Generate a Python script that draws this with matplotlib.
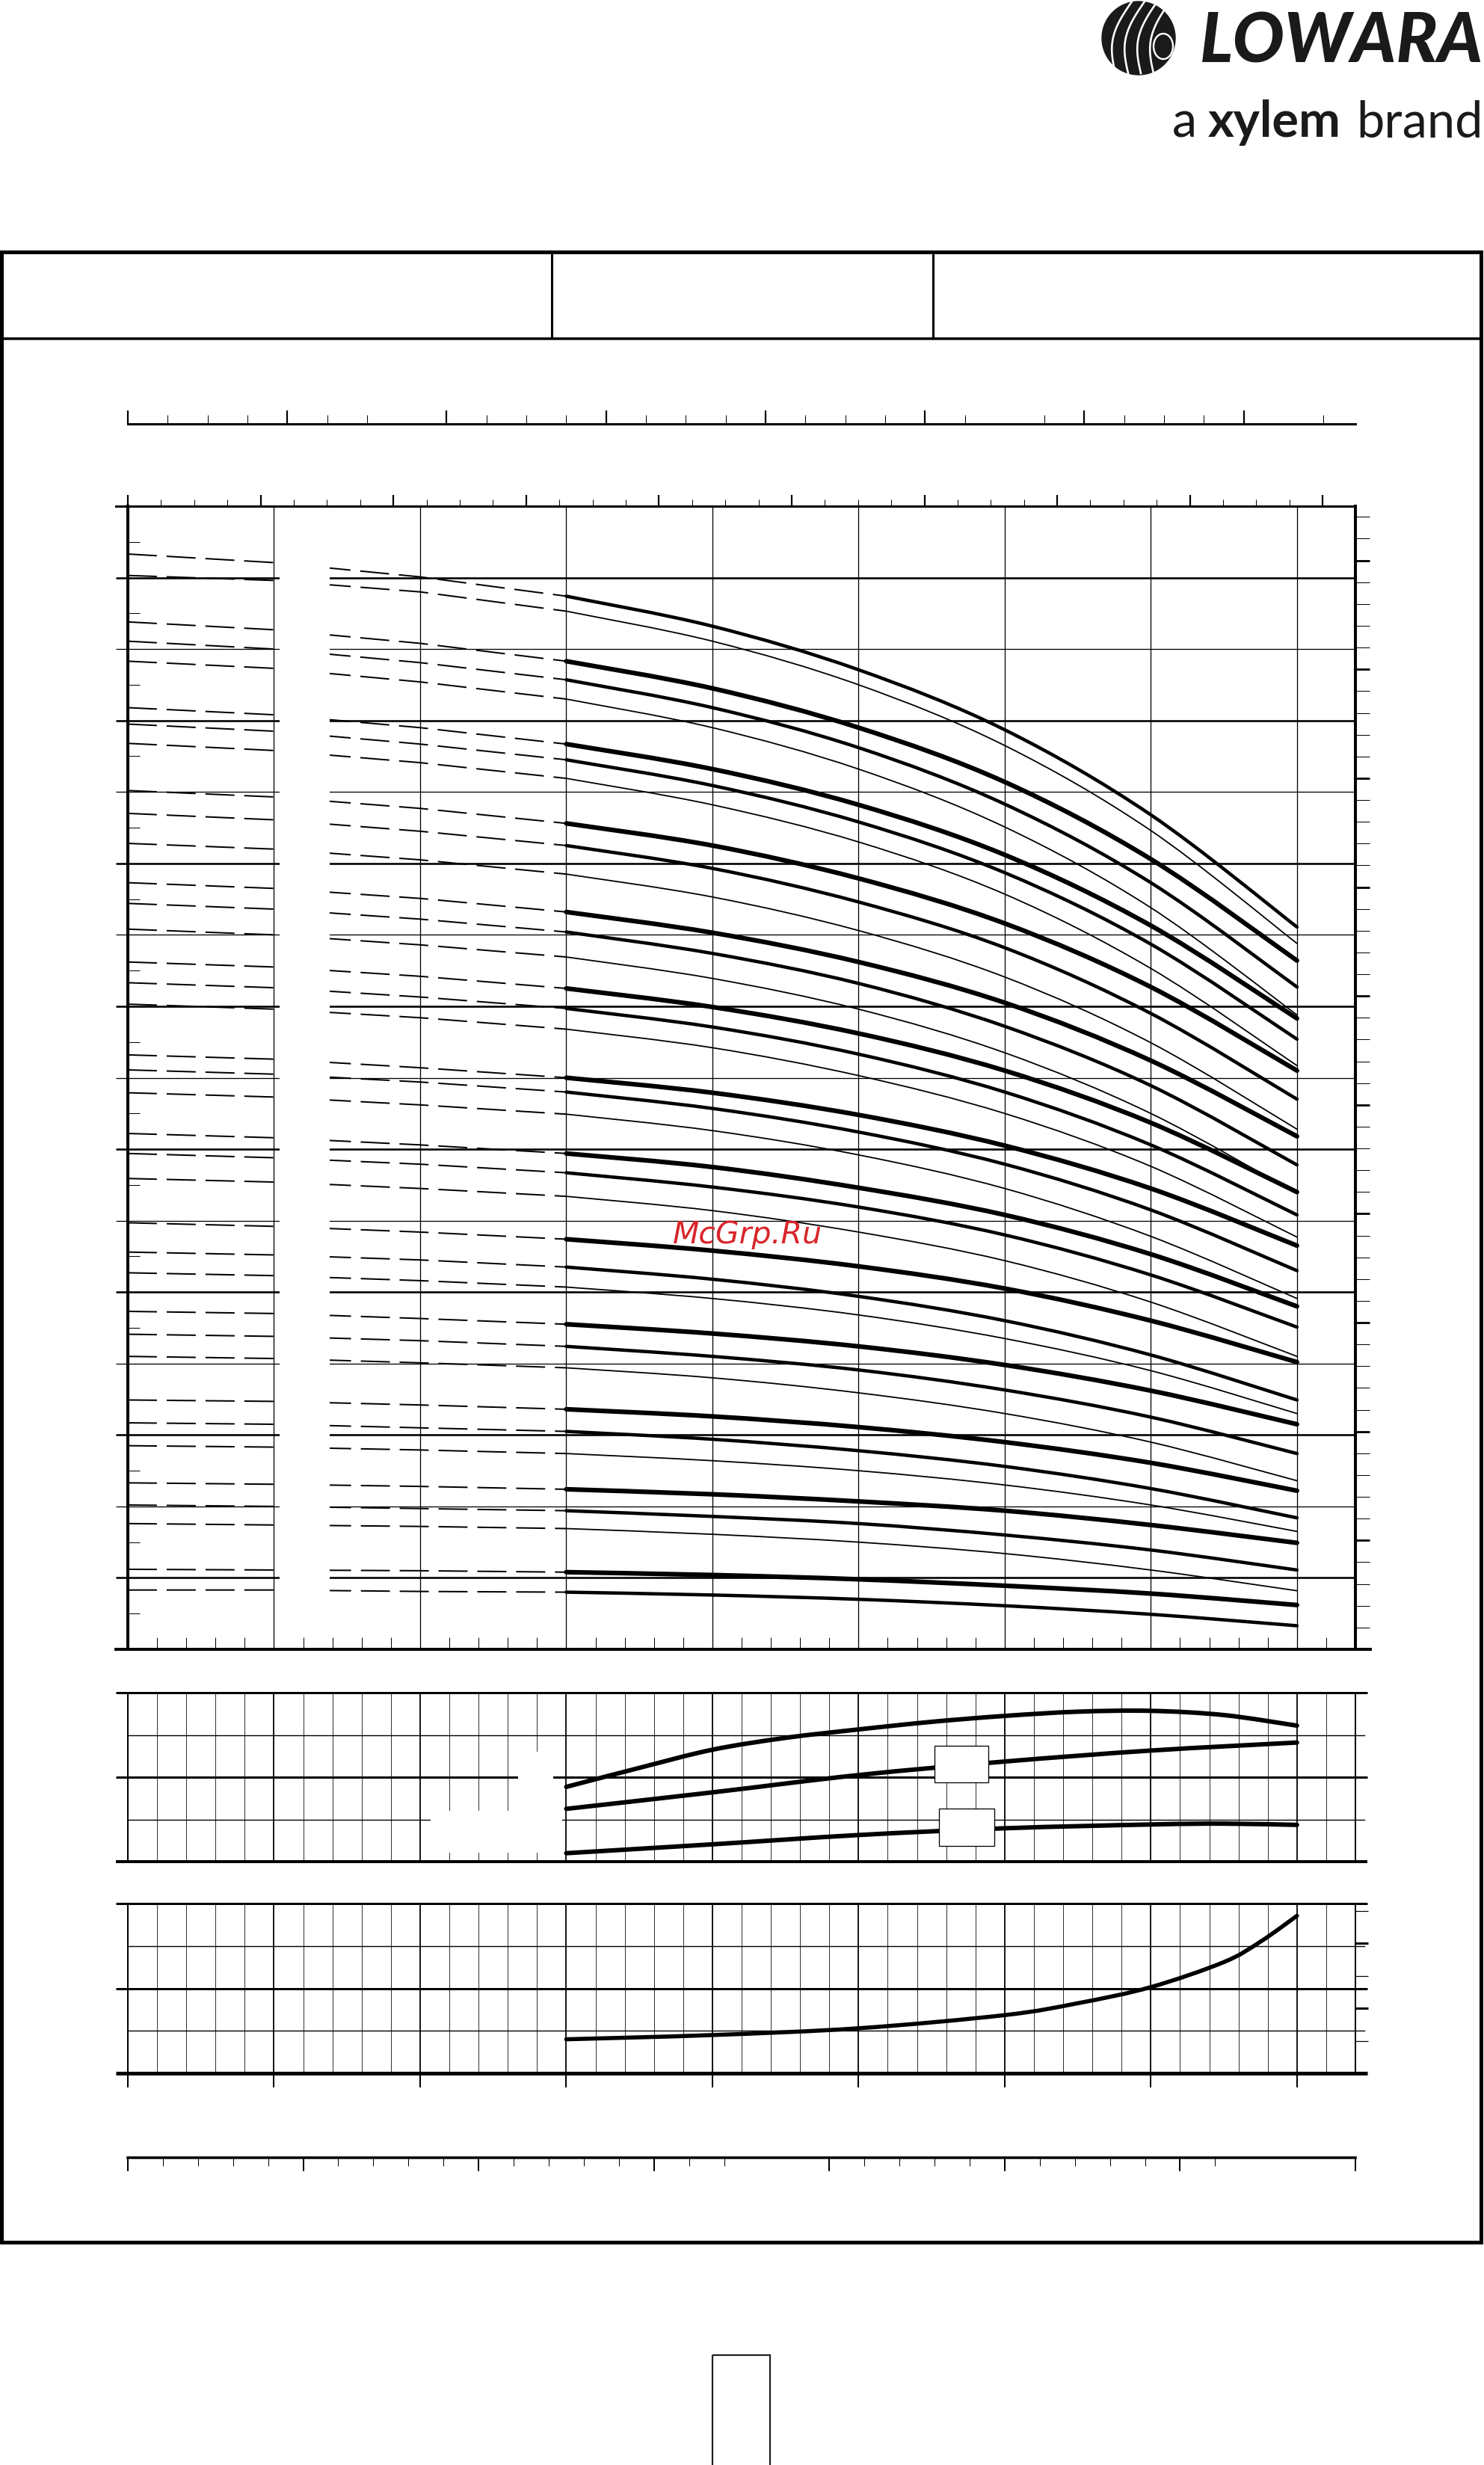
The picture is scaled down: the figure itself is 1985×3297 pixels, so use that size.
import numpy as np
import matplotlib
matplotlib.use("Agg")
import matplotlib.pyplot as plt
from matplotlib.patches import Rectangle, Circle, Ellipse, PathPatch
from matplotlib.path import Path

plt.rcParams['lines.scale_dashes'] = False
plt.rcParams['font.family'] = ['Lato', 'DejaVu Sans']

W, H = 1985, 3297
PT = 0.72  # points per pixel at dpi 100

# ---------------- data ----------------
flow_m3h = [0, 1, 2, 3, 4, 5, 6, 7, 8]
# head [m] at the flows above; Q<3 is the dashed part
head_table = [
    [153.3, 152.1, 150.1, 147.4, 143.2, 137.1, 128.7, 116.8, 101.1],
    [150.3, 149.6, 148.0, 145.3, 141.1, 135.0, 126.5, 114.6, 98.8],
    [143.8, 142.7, 140.8, 138.3, 134.5, 129.0, 121.4, 110.6, 96.4],
    [141.1, 140.0, 138.1, 135.7, 131.8, 126.2, 118.3, 107.3, 92.7],
    [138.3, 137.3, 135.4, 133.0, 129.0, 123.2, 115.1, 103.8, 88.8],
    [131.8, 130.8, 129.0, 126.7, 123.2, 118.2, 111.2, 101.3, 88.3],
    [129.5, 128.5, 126.7, 124.5, 120.9, 115.8, 108.7, 98.7, 85.4],
    [126.8, 125.8, 124.1, 121.9, 118.2, 113.0, 105.7, 95.3, 81.7],
    [120.2, 119.3, 117.7, 115.6, 112.5, 107.9, 101.6, 92.7, 81.0],
    [117.0, 116.1, 114.5, 112.5, 109.3, 104.6, 98.2, 89.0, 77.0],
    [112.8, 112.0, 110.5, 108.5, 105.3, 100.6, 94.1, 84.9, 72.8],
    [107.3, 106.5, 105.1, 103.2, 100.3, 96.2, 90.5, 82.4, 71.8],
    [104.4, 103.6, 102.2, 100.4, 97.4, 93.2, 87.2, 78.9, 67.8],
    [100.8, 100.0, 98.6, 96.9, 93.9, 89.6, 83.5, 75.0, 63.8],
    [96.2, 95.5, 94.2, 92.5, 89.9, 86.2, 81.0, 73.7, 64.0],
    [93.3, 92.6, 91.3, 89.7, 87.1, 83.3, 78.0, 70.6, 60.8],
    [90.3, 89.6, 88.4, 86.8, 84.2, 80.3, 75.0, 67.6, 57.7],
    [83.2, 82.6, 81.4, 80.0, 77.9, 74.8, 70.5, 64.5, 56.5],
    [81.1, 80.5, 79.4, 78.0, 75.7, 72.4, 67.9, 61.5, 53.0],
    [77.9, 77.3, 76.2, 74.9, 72.6, 69.2, 64.5, 57.8, 49.1],
    [72.2, 71.6, 70.6, 69.4, 67.5, 64.6, 60.8, 55.3, 48.0],
    [69.4, 68.8, 67.9, 66.7, 64.7, 61.9, 58.0, 52.4, 45.1],
    [65.9, 65.4, 64.5, 63.4, 61.4, 58.4, 54.4, 48.6, 41.0],
    [59.7, 59.2, 58.4, 57.4, 55.8, 53.6, 50.5, 46.0, 40.2],
    [55.6, 55.2, 54.5, 53.5, 51.8, 49.4, 46.0, 41.2, 34.9],
    [52.7, 52.3, 51.6, 50.7, 49.1, 46.8, 43.5, 39.0, 33.0],
    [47.3, 47.0, 46.3, 45.5, 44.2, 42.4, 39.8, 36.2, 31.5],
    [44.1, 43.8, 43.2, 42.4, 41.0, 39.1, 36.3, 32.5, 27.4],
    [41.0, 40.7, 40.1, 39.4, 38.0, 35.9, 33.0, 29.0, 23.6],
    [34.9, 34.7, 34.2, 33.6, 32.6, 31.1, 29.0, 26.1, 22.2],
    [31.7, 31.5, 31.0, 30.5, 29.4, 27.8, 25.6, 22.5, 18.4],
    [28.5, 28.3, 27.9, 27.4, 26.4, 25.0, 23.0, 20.2, 16.5],
    [23.3, 23.1, 22.8, 22.4, 21.7, 20.7, 19.4, 17.4, 14.9],
    [20.2, 20.0, 19.7, 19.4, 18.6, 17.6, 16.0, 13.9, 11.1],
    [17.6, 17.4, 17.2, 16.9, 16.1, 15.0, 13.4, 11.1, 8.2],
    [11.2, 11.1, 11.0, 10.8, 10.4, 9.8, 8.9, 7.8, 6.2],
    [8.3, 8.3, 8.1, 8.0, 7.6, 7.0, 6.1, 4.9, 3.3],
]
curve_kind = ['m', 's'] + ['vt', 't', 's'] * 11 + ['vt', 't']

# efficiency / npsh panel (grid units 0..4)
eff_q = [3, 3.5, 4, 4.5, 5, 5.5, 6, 6.5, 7, 7.5, 8]
eff_u = [1.77, 2.22, 2.65, 2.93, 3.13, 3.31, 3.45, 3.55, 3.57, 3.47, 3.22]
mid_q = [3, 4, 5, 6, 7, 8]
mid_u = [1.25, 1.64, 2.05, 2.37, 2.63, 2.82]
low_q = [3, 4, 5, 6, 7, 7.5, 8]
low_u = [0.20, 0.41, 0.63, 0.79, 0.88, 0.90, 0.87]
# power panel
pow_q = [3, 4, 5, 6, 6.5, 7, 7.5, 7.75, 8]
pow_u = [0.80, 0.90, 1.06, 1.37, 1.65, 2.03, 2.62, 3.10, 3.71]

# tick scales
imp_major = [0, 4, 8, 12, 16, 20, 24, 28]
imp_minor = [1, 2, 3, 5, 6, 9, 10, 11, 13, 14, 15, 17, 18, 19, 21, 23, 25, 26, 27, 30]
lmin_major = [0, 20, 40, 60, 80, 100, 120, 140]
lmin_minor = [4, 8, 12, 16, 24, 28, 32, 36, 44, 48, 52, 56, 64, 68,
              84, 88, 92, 96, 104, 108, 112, 116, 124]

LW = {'m': 4.5, 'vt': 6.2, 't': 4.5, 's': 1.8}   # px


def box(x0, y0, x1, y1):
    return [x0 / W, 1 - y1 / H, (x1 - x0) / W, (y1 - y0) / H]


def smooth(ax, xs, ys, lw, z=4):
    # bezier path through the read points (catmull-rom tangents)
    pts = np.column_stack([xs, ys]).astype(float)
    ext = np.vstack([pts[0], pts, pts[-1]])
    verts = [pts[0]]
    codes = [Path.MOVETO]
    for i in range(len(pts) - 1):
        p0, p1, p2, p3 = ext[i], ext[i + 1], ext[i + 2], ext[i + 3]
        verts += [p1 + (p2 - p0) / 6, p2 - (p3 - p1) / 6, p2]
        codes += [Path.CURVE4] * 3
    ax.add_patch(PathPatch(Path(verts, codes), fill=False, ec='k', lw=lw * PT,
                           capstyle='round', zorder=z))


fig = plt.figure(figsize=(W / 100, H / 100), dpi=100)
fig.patch.set_facecolor('white')

# ---------------- page frame, header, logo ----------------
bg = fig.add_axes([0, 0, 1, 1])
bg.set_xlim(0, W)
bg.set_ylim(H, 0)
bg.axis('off')
bg.add_patch(Rectangle((2, 337), 1979, 2662, fill=False, lw=5 * PT, ec='k'))
bg.plot([2, 1981], [452.5, 452.5], color='k', lw=3.5 * PT)
bg.plot([738, 738], [337, 452], color='k', lw=3 * PT)
bg.plot([1248, 1248], [337, 452], color='k', lw=3 * PT)
bg.add_patch(Rectangle((953, 3150), 77, 200, fill=False, lw=2.2 * PT, ec='#231f20'))

# logo mark
bg.add_patch(Circle((1523, 51), 49, color='#1a1a1a'))
tt = np.linspace(0, 1, 40)
for i in range(4):
    x0 = 1492 + i * 17
    xs = x0 - 14 * np.sin(np.pi * tt) + 22 * tt
    ys = 98 - 96 * tt
    bg.plot(xs, ys, color='white', lw=2.6 * PT)
bg.add_patch(Ellipse((1556, 62), 26, 34, fill=False, ec='white', lw=2.4 * PT))

bg.text(1984, 83, 'LOWARA', ha='right', va='baseline', fontsize=66,
        fontweight='black', fontstyle='italic', color='#1a1a1a')
bg.text(1568, 183, 'a', ha='left', va='baseline', fontsize=48,
        fontweight='normal', color='#1a1a1a')
bg.text(1616, 183, 'xylem', ha='left', va='baseline', fontsize=48,
        fontweight='bold', color='#1a1a1a')
bg.text(1984, 183, 'brand', ha='right', va='baseline', fontsize=48,
        fontweight='normal', color='#1a1a1a')

# ---------------- imperial gpm scale ----------------
imp = fig.add_axes(box(171, 530, 1813, 567))
imp.set_xlim(0, 30.8)
imp.patch.set_visible(False)
for s in ['top', 'left', 'right']:
    imp.spines[s].set_visible(False)
imp.spines['bottom'].set_linewidth(3 * PT)
imp.set_yticks([])
imp.set_xticks(imp_major)
imp.set_xticks(imp_minor, minor=True)
imp.set_xticklabels([])
imp.tick_params(axis='x', which='major', direction='in', length=18 * PT, width=2.2 * PT)
imp.tick_params(axis='x', which='minor', direction='in', length=12 * PT, width=1 * PT)

# ---------------- main H-Q chart ----------------
ax = fig.add_axes(box(171, 677, 1813, 2206))
ax.set_xlim(0, 8.4)
ax.set_ylim(0, 160)
ax.spines['left'].set_linewidth(4 * PT)
ax.spines['right'].set_linewidth(4 * PT)
ax.spines['top'].set_linewidth(3 * PT)
ax.spines['bottom'].set_linewidth(4 * PT)
ax.set_xticks([])
ax.set_yticks([])
ax.set_xticks(np.arange(0.2, 8.4, 0.2), minor=True)
ax.set_yticks(np.arange(5, 160, 10), minor=True)
ax.tick_params(which='minor', direction='in', length=16 * PT, width=1 * PT,
               top=False, right=False)

for q in range(1, 9):
    ax.axvline(q, color='k', lw=1.3 * PT, zorder=1)
for h in range(10, 160, 10):
    heavy = (h // 10) % 2 == 1
    ax.plot([-0.08, 8.4], [h, h], color='k', lw=(2.6 if heavy else 1.3) * PT,
            clip_on=False, zorder=1, solid_capstyle='butt')
ax.plot([-0.08, 8.4], [160, 160], color='k', lw=3 * PT, clip_on=False, zorder=1)
ax.plot([-0.08, 8.5], [0, 0], color='k', lw=4 * PT, clip_on=False, zorder=1)

flow = np.array(flow_m3h)
for row, kind in zip(head_table, curve_kind):
    row = np.array(row)
    ax.plot(flow[:4], row[:4], color='k', lw=2 * PT, dashes=(28, 9.4), zorder=2)
    smooth(ax, flow[3:], row[3:], LW[kind])
ax.add_patch(Rectangle((1.04, 2), 0.34, 156, fc='white', ec='none', zorder=3))

top = ax.secondary_xaxis('top', functions=(lambda q: q * 4.403, lambda g: g / 4.403))
top.set_xticks(np.arange(0, 37, 4))
top.set_xticks(np.arange(0, 37, 1), minor=True)
top.set_xticklabels([])
top.tick_params(which='major', direction='out', length=15 * PT, width=2.2 * PT)
top.tick_params(which='minor', direction='out', length=9 * PT, width=1 * PT)
top.spines['top'].set_linewidth(3 * PT)

rt = ax.secondary_yaxis('right', functions=(lambda m: m * 3.2808, lambda f: f / 3.2808))
rt.set_yticks(np.arange(50, 525, 50))
rt.set_yticks(np.arange(10, 525, 10), minor=True)
rt.set_yticklabels([])
rt.tick_params(which='major', direction='out', length=19 * PT, width=2.8 * PT)
rt.tick_params(which='minor', direction='out', length=19 * PT, width=1 * PT)
rt.spines['right'].set_linewidth(4 * PT)

fig.text(900 / W, 1 - 1663 / H, 'McGrp.Ru', ha='left', va='baseline',
         fontsize=29.5, fontstyle='italic', color='#d8262a', family='DejaVu Sans')


# ---------------- lower panels ----------------
def panel(y0, y1, bottom_lw):
    p = fig.add_axes(box(171, y0, 1813, y1))
    p.set_xlim(0, 8.4)
    p.set_ylim(0, 4)
    p.set_xticks([])
    p.set_yticks([])
    p.spines['top'].set_visible(False)
    p.spines['bottom'].set_visible(False)
    p.spines['left'].set_linewidth(2 * PT)
    p.spines['right'].set_linewidth(2 * PT)
    for k in range(1, 42):
        q = k * 0.2
        p.axvline(q, color='k', lw=(1.8 if k % 5 == 0 else 0.8) * PT, zorder=1)
    for u in [1, 3]:
        p.plot([0, 8.46], [u, u], color='k', lw=1.4 * PT, clip_on=False, zorder=1)
    for u, lw in [(0, bottom_lw), (2, 3), (4, 3)]:
        p.plot([-0.08, 8.48], [u, u], color='k', lw=lw * PT, clip_on=False,
               zorder=1, solid_capstyle='butt')
    return p


p1 = panel(2264, 2490, 4)
p1.add_patch(Rectangle((2.07, 0.22), 0.90, 0.98, fc='white', ec='none', zorder=3))
p1.add_patch(Rectangle((2.67, 1.2), 0.24, 1.4, fc='white', ec='none', zorder=3))
smooth(p1, eff_q, eff_u, 6)
smooth(p1, mid_q, mid_u, 6)
smooth(p1, low_q, low_u, 6)
p1.add_patch(Rectangle((5.52, 1.88), 0.37, 0.87, fc='white', ec='k', lw=1.3 * PT, zorder=5))
p1.add_patch(Rectangle((5.55, 0.37), 0.38, 0.89, fc='white', ec='k', lw=1.3 * PT, zorder=5))

p2 = panel(2546, 2773, 5)
smooth(p2, pow_q, pow_u, 5.5)
p2.set_xticks(range(9))
p2.set_xticklabels([])
p2.tick_params(axis='x', direction='out', length=19 * PT, width=2 * PT)
pr = p2.secondary_yaxis('right', functions=(lambda u: u / 0.765, lambda v: v * 0.765))
pr.set_yticks([2, 4])
pr.set_yticks([1, 3, 5], minor=True)
pr.set_yticklabels([])
pr.tick_params(which='major', direction='out', length=17 * PT, width=3 * PT)
pr.tick_params(which='minor', direction='out', length=17 * PT, width=1.2 * PT)
pr.spines['right'].set_linewidth(2 * PT)

# ---------------- l/min scale ----------------
lm = fig.add_axes(box(171, 2850, 1813, 2886))
lm.set_xlim(0, 140)
lm.patch.set_visible(False)
for s in ['top', 'left', 'right']:
    lm.spines[s].set_visible(False)
lm.spines['bottom'].set_linewidth(3.5 * PT)
lm.set_yticks([])
lm.set_xticks(lmin_major)
lm.set_xticks(lmin_minor, minor=True)
lm.set_xticklabels([])
lm.tick_params(axis='x', which='major', direction='out', length=18 * PT, width=2 * PT)
lm.tick_params(axis='x', which='minor', direction='out', length=11 * PT, width=1 * PT)

fig.savefig('out.png', dpi=100, facecolor='white')
